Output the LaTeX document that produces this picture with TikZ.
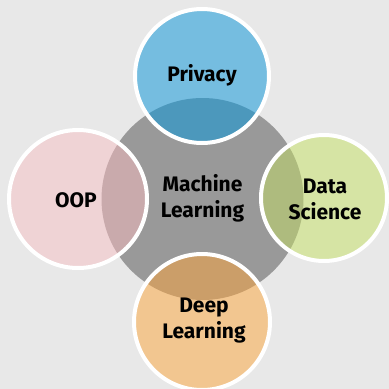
\documentclass[tikz,border=0pt]{standalone}
\usepackage{fontspec}
\setmainfont{Fira Sans}
\begin{document}
\begin{tikzpicture}[x=1pt,y=-1pt]
  \definecolor{bgc}{HTML}{E8E8E8}
  \definecolor{hub}{HTML}{999999}
  \definecolor{blueA}{HTML}{75BDE0}\definecolor{blueB}{HTML}{4C98BC}
  \definecolor{pinkA}{HTML}{EFD3D5}\definecolor{pinkB}{HTML}{C9AAAC}
  \definecolor{greenA}{HTML}{D6E4A4}\definecolor{greenB}{HTML}{AEBB7E}
  \definecolor{orangeA}{HTML}{F2C690}\definecolor{orangeB}{HTML}{CB9E69}
  \tikzset{
    ring/.style={draw=white,line width=4pt},
    lbl/.style={font=\bfseries\fontsize{21}{26}\selectfont,align=center,text=black,inner sep=0pt}
  }
  % canvas
  \fill[bgc] (0,0) rectangle (389,389);
  \useasboundingbox (0,0) rectangle (389,389);
  % central circle
  \fill[hub] (202.5,199) circle[radius=101];
  % satellite circles: base fill, darker part where they cover the hub, white ring
  \foreach \cx/\cy/\r/\ca/\cb in {202/76/67/blueA/blueB, 78/199/69/pinkA/pinkB, 324/198/63/greenA/greenB, 202/322/68/orangeA/orangeB}{
    \fill[\ca] (\cx,\cy) circle[radius=\r];
    \begin{scope}
      \clip (202.5,199) circle[radius=101];
      \fill[\cb] (\cx,\cy) circle[radius=\r];
    \end{scope}
    \draw[ring] (\cx,\cy) circle[radius=\r];
  }
  % labels
  \node[lbl] (ml) at (202.5,198) {Machine\\Learning};
  \node[lbl] (priv) at (202,75) {Privacy};
  \node[lbl] (oop) at (76,200) {OOP};
  \node[lbl] (ds) at (325,199.5) {Data\\Science};
  \node[lbl] (dl) at (204,321) {Deep\\Learning};
\end{tikzpicture}
\end{document}
